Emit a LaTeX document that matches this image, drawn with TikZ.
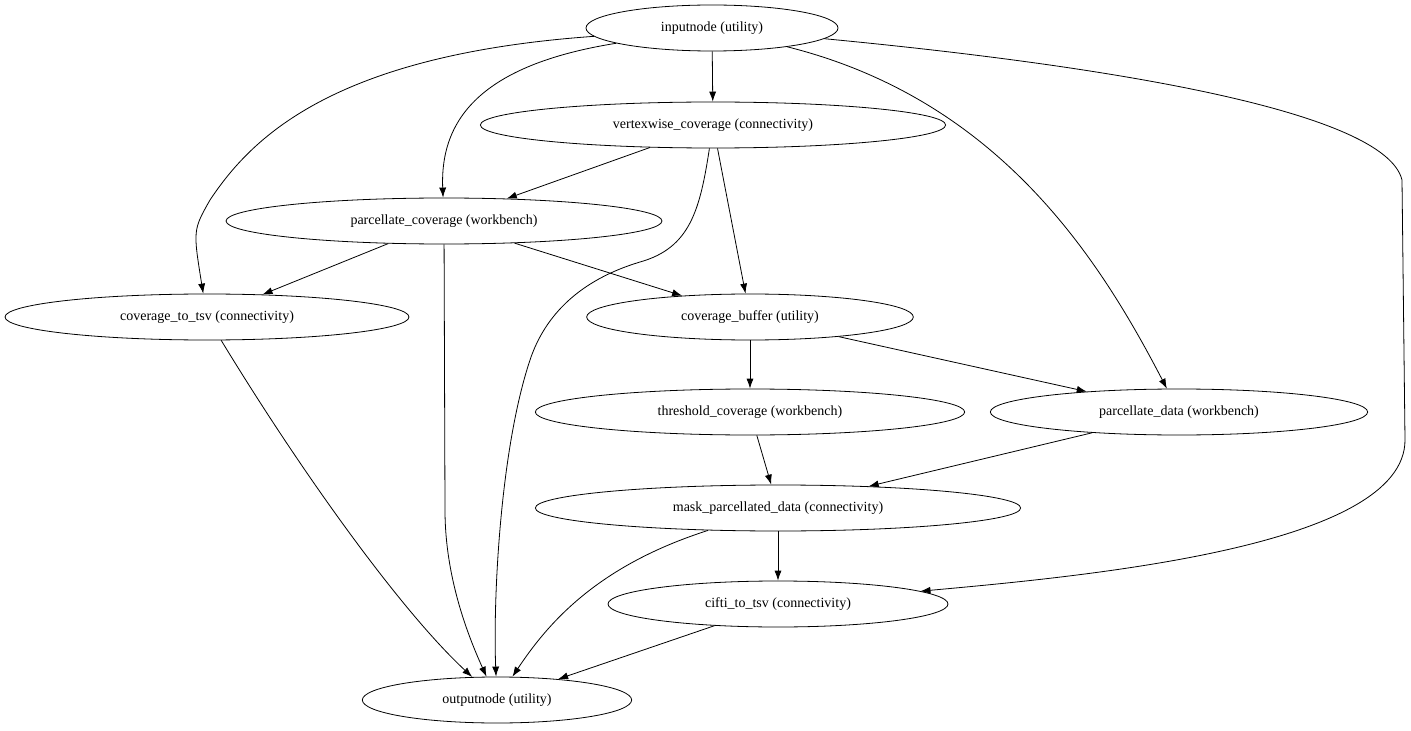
\documentclass[tikz,border=0pt]{standalone}
\usepackage{fontspec}
\setmainfont{Liberation Serif}
\usetikzlibrary{shapes.geometric,arrows.meta}
\begin{document}
\begin{tikzpicture}[x=0.75pt,y=-0.75pt,
  nd/.style={ellipse,draw,line width=0.6pt,inner sep=0pt,minimum height=34.5pt,font=\fontsize{10.5}{12}\selectfont},
  ed/.style={draw,line width=0.6pt,-{Latex[length=7.5pt,width=5.3pt]}}]
\useasboundingbox (0,0) rectangle (1411,731);
\node[nd,minimum width=189pt] (in) at (712,28) {inputnode (utility)};
\node[nd,minimum width=349pt] (vc) at (713,125) {vertexwise\_coverage (connectivity)};
\node[nd,minimum width=327pt] (pc) at (444,221) {parcellate\_coverage (workbench)};
\node[nd,minimum width=303pt] (ct) at (207,317) {coverage\_to\_tsv (connectivity)};
\node[nd,minimum width=245pt] (cb) at (750,317) {coverage\_buffer (utility)};
\node[nd,minimum width=322pt] (tc) at (750,412) {threshold\_coverage (workbench)};
\node[nd,minimum width=283pt] (pd) at (1179,412) {parcellate\_data (workbench)};
\node[nd,minimum width=364pt] (mp) at (778,508) {mask\_parcellated\_data (connectivity)};
\node[nd,minimum width=255pt] (cf) at (778,604) {cifti\_to\_tsv (connectivity)};
\node[nd,minimum width=202pt] (out) at (497,700) {outputnode (utility)};
\path[ed] (in) -- (vc);
\path[ed] (in) .. controls (480,65) and (440,120) .. (pc);
\path[ed] (in) .. controls (330,55) and (250,140) .. (210,200) .. controls (193,230) .. (ct);
\path[ed] (in) .. controls (1000,100) and (1100,260) .. (pd);
\path[ed] (in) .. controls (1100,65) and (1385,110) .. (1402,180) -- (1405,440) .. controls (1405,545) and (1100,575) .. (cf);
\path[ed] (vc) -- (pc);
\path[ed] (vc) -- (cb);
\path[ed] (vc) .. controls (700,210) and (690,248) .. (640,262) .. controls (580,280) and (545,315) .. (530,360) .. controls (500,450) and (493,600) .. (out);
\path[ed] (pc) -- (ct);
\path[ed] (pc) -- (cb);
\path[ed] (pc) -- (445,510) .. controls (445,580) and (470,640) .. (out);
\path[ed] (ct) .. controls (300,470) and (400,610) .. (out);
\path[ed] (cb) -- (tc);
\path[ed] (cb) -- (pd);
\path[ed] (tc) -- (mp);
\path[ed] (pd) -- (mp);
\path[ed] (mp) -- (cf);
\path[ed] (mp) .. controls (600,565) and (550,620) .. (out);
\path[ed] (cf) -- (out);
\end{tikzpicture}
\end{document}
